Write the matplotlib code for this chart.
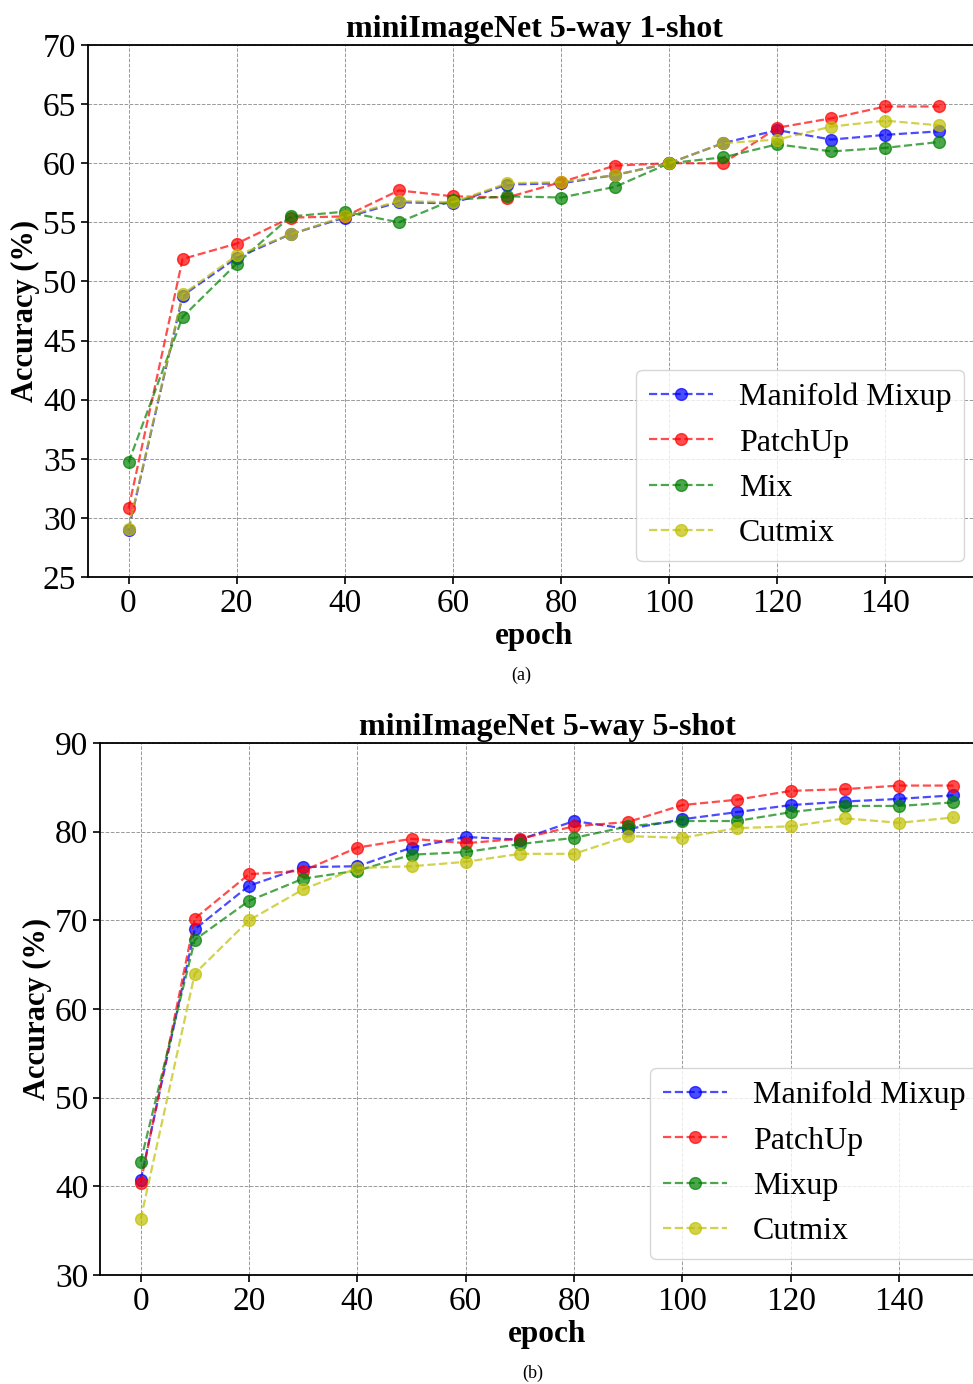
import matplotlib
matplotlib.use('Agg')
import matplotlib.pyplot as plt

plt.rcParams['font.family'] = ['Liberation Serif', 'DejaVu Serif']

epochs = [0, 10, 20, 30, 40, 50, 60, 70, 80, 90, 100, 110, 120, 130, 140, 150]

# (a) miniImageNet 5-way 1-shot
one_manifold = [29.0, 48.8, 52.0, 54.0, 55.4, 56.7, 56.6, 58.2, 58.3, 59.0, 60.0, 61.7, 62.8, 62.0, 62.4, 62.7]
one_patchup = [30.8, 51.9, 53.2, 55.4, 55.5, 57.7, 57.2, 57.1, 58.4, 59.8, 60.0, 60.0, 63.0, 63.8, 64.8, 64.8]
one_mix = [34.7, 47.0, 51.5, 55.5, 55.9, 55.0, 56.9, 57.2, 57.1, 58.0, 60.0, 60.5, 61.6, 61.0, 61.3, 61.8]
one_cutmix = [29.1, 48.9, 52.2, 54.0, 55.5, 56.8, 56.7, 58.3, 58.4, 59.0, 60.0, 61.7, 62.0, 63.1, 63.6, 63.2]

# (b) miniImageNet 5-way 5-shot
five_manifold = [40.7, 69.0, 73.9, 76.0, 76.1, 78.2, 79.4, 79.1, 81.2, 80.3, 81.4, 82.2, 83.0, 83.4, 83.7, 84.1]
five_patchup = [40.4, 70.2, 75.2, 75.6, 78.2, 79.2, 78.7, 79.2, 80.6, 81.1, 83.0, 83.6, 84.6, 84.8, 85.2, 85.2]
five_mixup = [42.8, 67.8, 72.2, 74.7, 75.6, 77.4, 77.7, 78.6, 79.3, 80.6, 81.2, 81.2, 82.2, 82.9, 82.9, 83.3]
five_cutmix = [36.3, 64.0, 70.0, 73.5, 75.9, 76.1, 76.6, 77.5, 77.5, 79.5, 79.3, 80.4, 80.6, 81.5, 81.0, 81.6]

panels = [
    ('miniImageNet 5-way 1-shot', '(a)',
     [('Manifold Mixup', one_manifold, 'b'), ('PatchUp', one_patchup, 'r'),
      ('Mix', one_mix, 'g'), ('Cutmix', one_cutmix, 'y')],
     (25, 70), range(25, 71, 5), [88 / 973, 1 - 577 / 1384, 892 / 973, 532 / 1384]),
    ('miniImageNet 5-way 5-shot', '(b)',
     [('Manifold Mixup', five_manifold, 'b'), ('PatchUp', five_patchup, 'r'),
      ('Mixup', five_mixup, 'g'), ('Cutmix', five_cutmix, 'y')],
     (30, 90), range(30, 91, 10), [100 / 973, 1 - 1275 / 1384, 894 / 973, 532 / 1384]),
]

fig = plt.figure(figsize=(9.73, 13.84), dpi=100)

for title, caption, series, ylim, yticks, rect in panels:
    ax = fig.add_axes(rect)
    for name, vals, col in series:
        ax.plot(epochs, vals, 'o--', color=col, alpha=0.7, label=name,
                markersize=8.5, linewidth=1.6)
    ax.set_xlim(-7.5, 157.5)
    ax.set_ylim(*ylim)
    ax.set_yticks(list(yticks))
    ax.set_xticks(range(0, 141, 20))
    ax.tick_params(labelsize=24, width=1.2, length=5)
    ax.grid(True, linestyle='--', color='grey', linewidth=0.7, alpha=0.8)
    for s in ax.spines.values():
        s.set_linewidth(1.3)
    ax.set_title(title, fontsize=23, fontweight='bold', pad=6)
    ax.set_xlabel('epoch', fontsize=22.5, fontweight='bold', labelpad=2)
    ax.set_ylabel('Accuracy (%)', fontsize=22, fontweight='bold', labelpad=2)
    leg = ax.legend(loc='lower right', fontsize=23, framealpha=0.8)
    leg.get_frame().set_edgecolor('#cccccc')
    x0, y0, w, h = rect
    fig.text(x0 + 433 / 973, y0 - 98 / 1384, caption, ha='center', va='center', fontsize=13)

fig.savefig('out.png', dpi=100)
